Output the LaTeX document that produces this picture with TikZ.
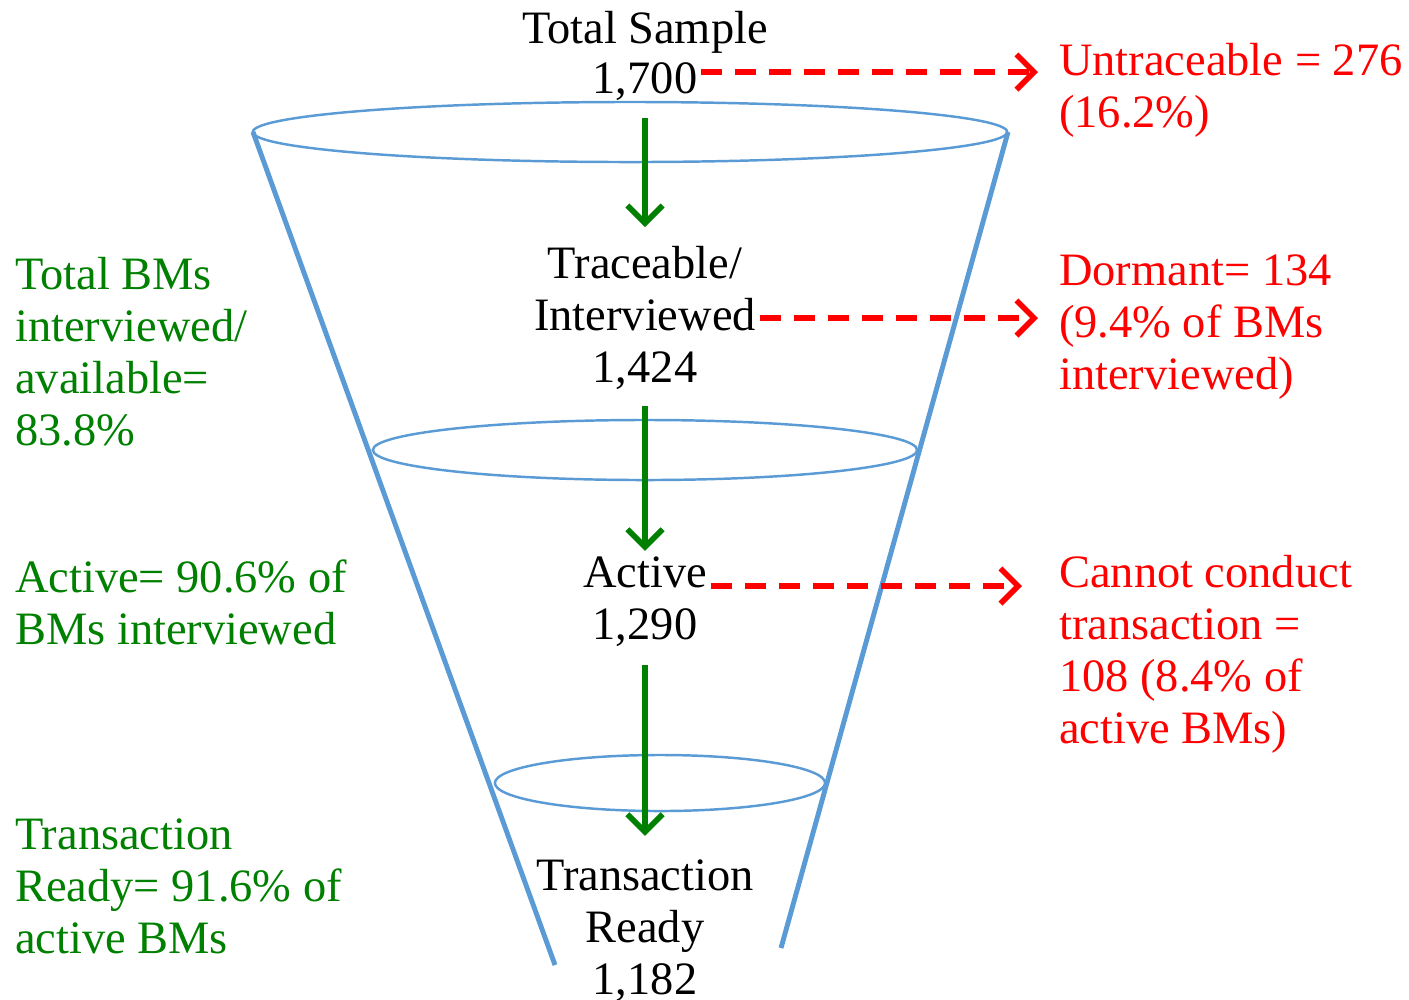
\documentclass[tikz,border=0pt]{standalone}
\usepackage{fontspec}
\setmainfont{Liberation Serif}
\usepackage{tikz}
\usetikzlibrary{arrows.meta}
\definecolor{rimblue}{RGB}{91,155,213}
\definecolor{keepgreen}{RGB}{0,128,0}
\definecolor{lossred}{RGB}{255,0,0}
\tikzstyle{txt}=[inner sep=1pt, font=\fontsize{13.2}{14.8}\selectfont]
\tikzstyle{stage}=[txt, align=center]
\tikzstyle{note}=[txt, align=left, anchor=west, text=keepgreen]
\tikzstyle{loss}=[txt, align=left, anchor=west, text=lossred]
\tikzstyle{rim}=[draw=rimblue, line width=0.7pt]
\tikzstyle{wall}=[draw=rimblue, line width=1.4pt]
\tikzstyle{flow}=[draw=keepgreen, line width=1.6pt, -{Straight Barb[length=5pt, width=10pt]}]
\tikzstyle{drop}=[draw=lossred, line width=1.6pt, dash pattern=on 0.21cm off 0.13cm, -{Straight Barb[length=5pt, width=10pt]}]

\begin{document}
\begin{tikzpicture}[x=0.01cm, y=-0.01cm]
        \useasboundingbox (0,0) rectangle (1409,999);
        % funnel
        \draw[wall] (253,132) -- (555,965);
        \draw[wall] (1008,132) -- (781,948);
        \draw[rim] (630,132) ellipse [x radius=3.77cm, y radius=0.3cm];
        \draw[rim] (645,450) ellipse [x radius=2.72cm, y radius=0.3cm];
        \draw[rim] (660,783) ellipse [x radius=1.65cm, y radius=0.28cm];
        % stages
        \node[stage] (total) at (645,32) {Total Sample};
        \node[stage] (totaln) at (645,82) {1,700};
        \node[stage] (trace) at (645,318) {Traceable/\\Interviewed\\1,424};
        \node[stage] (active) at (645,602) {Active\\1,290};
        \node[stage] (ready) at (645,931) {Transaction\\Ready\\1,182};
        % shares kept
        \node[note] (share1) at (11,352) {Total BMs\\interviewed/\\available=\\83.8\%};
        \node[note] (share2) at (11,602) {Active= 90.6\% of\\BMs interviewed};
        \node[note] (share3) at (11,886) {Transaction\\Ready= 91.6\% of\\active BMs};
        % losses
        \node[loss] (untrace) at (1055,90) {Untraceable = 276\\(16.2\%)};
        \node[loss] (dormant) at (1055,327) {Dormant= 134\\(9.4\% of BMs\\interviewed)};
        \node[loss] (cannot) at (1055,654) {Cannot conduct\\transaction =\\108 (8.4\% of\\active BMs)};
        \draw[flow] (totaln.south) -- (trace.north) [shorten <=0.13cm, shorten >=0.15cm];
        \draw[flow] (trace.south) -- (active.north) [shorten <=0.12cm, shorten >=0.02cm];
        \draw[flow] (active.south) -- (ready.north) [shorten <=0.14cm, shorten >=0.2cm];
        \draw[drop] ([yshift=0.1cm]totaln.east) -- ([yshift=0.1cm]totaln.east -| untrace.west) [shorten >=0.17cm];
        \draw[drop] (trace.east) -- (trace.east -| dormant.west) [shorten >=0.17cm];
        \draw[drop] ([yshift=0.16cm]active.east) -- ([yshift=0.16cm]active.east -| cannot.west) [shorten >=0.33cm];
    \end{tikzpicture}
\end{document}
